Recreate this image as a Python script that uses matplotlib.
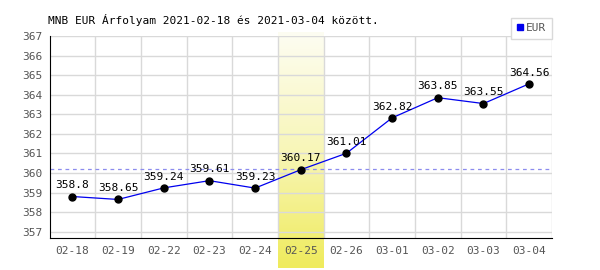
import numpy as np
import matplotlib
matplotlib.use('Agg')
from matplotlib import pyplot as plt
from matplotlib.lines import Line2D
from matplotlib.colors import LinearSegmentedColormap

#____________________________
# Data
dates = ['02-18', '02-19', '02-22', '02-23', '02-24', '02-25', '02-26', '03-01', '03-02', '03-03', '03-04']
rates = [358.8, 358.65, 359.24, 359.61, 359.23, 360.17, 361.01, 362.82, 363.85, 363.55, 364.56]
rate_labels = ['358.8', '358.65', '359.24', '359.61', '359.23', '360.17', '361.01', '362.82', '363.85', '363.55', '364.56']
highlight_date = '02-25'
ref_level = 360.2
title = 'MNB EUR Árfolyam 2021-02-18 és 2021-03-04 között.'

plt.rcParams['font.family'] = ['DejaVu Sans Mono', 'DejaVu Sans']

fig = plt.figure(figsize=(6, 2.7), dpi=100)
ax = fig.add_axes([0.0825, 0.1185, 0.8375, 0.748])

x = np.arange(len(dates))
ax.set_xlim(-0.5, len(dates) - 0.5)
ax.set_ylim(356.68, 367)

# highlighted day (gradient band, runs past the axes)
hi = dates.index(highlight_date)
grad = np.linspace(0, 1, 256).reshape(-1, 1)
cmap = LinearSegmentedColormap.from_list('hl', ['#fdfdf2', '#f8f6b8', '#efeb5c'])
im = ax.imshow(grad, extent=[hi - 0.5, hi + 0.5, 355.15, 367.17], cmap=cmap,
               aspect='auto', origin='upper', zorder=0.5, clip_on=False)

# grid
for b in np.arange(0.5, len(dates) - 0.5 + 1, 1):
    ax.axvline(b, color='#d9d9d9', lw=1, zorder=1)
for v in range(357, 368):
    ax.axhline(v, color='#d9d9d9', lw=1, zorder=1)

ax.axhline(ref_level, color='#8c8cee', lw=0.9, ls=(0, (3, 3)), zorder=2)

ax.plot(x, rates, color='#0000ee', lw=0.9, zorder=3)
ax.plot(x, rates, 'o', color='black', ms=5, zorder=4)
for xi, yi, lab in zip(x, rates, rate_labels):
    ax.annotate(lab, (xi, yi), xytext=(0, 4.5), textcoords='offset points',
                ha='center', va='bottom', fontsize=8, color='black', zorder=5)

ax.set_xticks(x)
ax.set_xticklabels(dates)
ax.set_yticks(range(357, 368))
ax.tick_params(axis='both', length=0, labelsize=8, colors='#555555', pad=6)
ax.tick_params(axis='y', pad=5)

for s in ['top', 'right']:
    ax.spines[s].set_visible(False)
ax.spines['left'].set_color('black')
ax.spines['bottom'].set_color('black')
ax.spines['left'].set_zorder(6)
ax.spines['bottom'].set_zorder(6)

fig.text(0.08, 0.925, title, fontsize=8, color='black', ha='left', va='center')

handle = Line2D([], [], marker='s', ls='none', color='#0000ee', ms=5)
leg = fig.legend([handle], ['EUR'], loc='upper right', bbox_to_anchor=(0.92, 0.935),
                 frameon=True, fancybox=False, fontsize=8, handlelength=0.6,
                 handletextpad=0.3, borderpad=0.5, borderaxespad=0, framealpha=1)
leg.get_frame().set_edgecolor('#d9d9d9')
leg.get_frame().set_linewidth(1)
for t in leg.get_texts():
    t.set_color('#555555')

plt.savefig('out.png', dpi=100)
